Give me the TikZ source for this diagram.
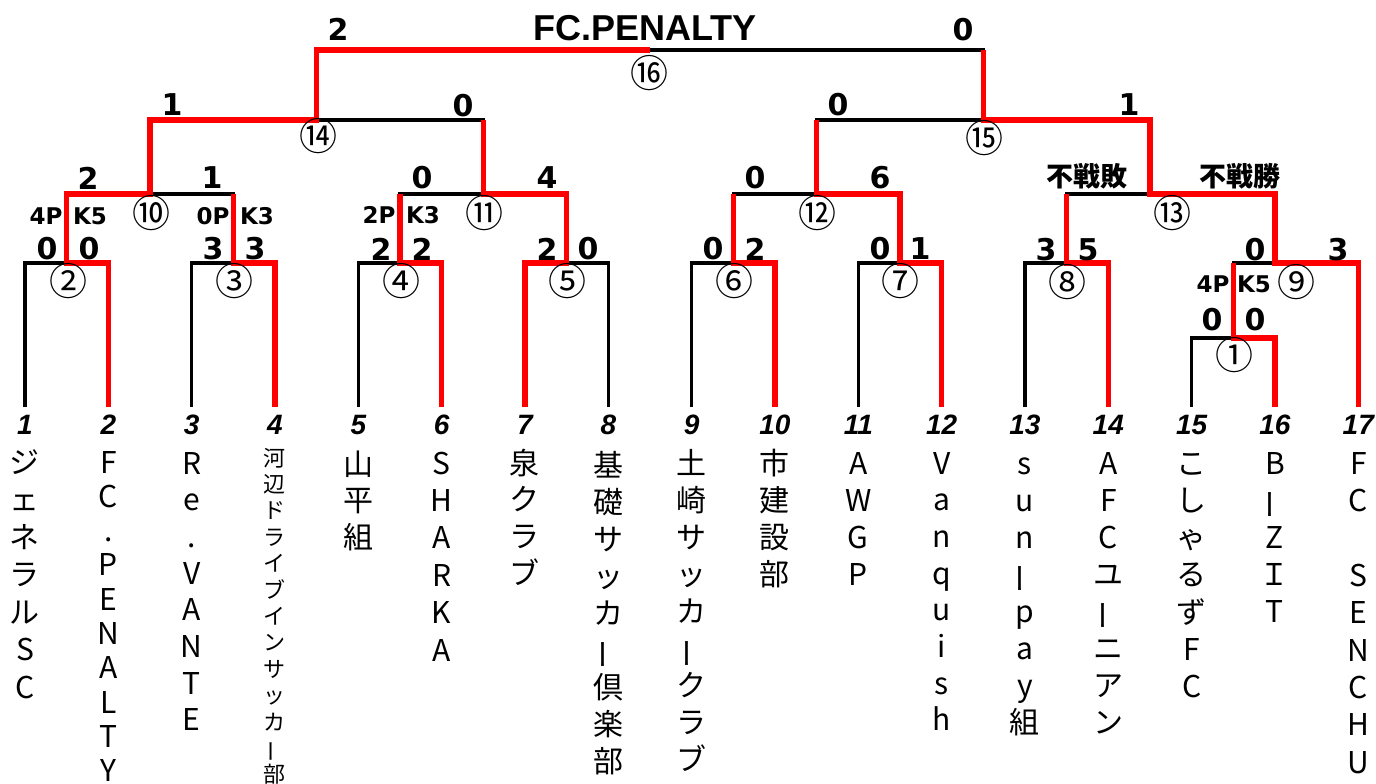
\documentclass[tikz,border=0pt]{standalone}
\usepackage{fontspec}
\usepackage{graphicx}
\setmainfont{Liberation Sans}
\newfontfamily\jp{Noto Sans CJK JP}
\newfontfamily\scorefont{DejaVu Sans}
\newcommand\tate{\rotatebox[origin=c]{90}{ー}}
% team name written top to bottom, one node per character
\newcommand\tname[5][tchar]{%
  \foreach \c [count=\k from 0] in {#5} {%
    \ifx\c\empty\else
      \node[#1] (n#2-\k) at ({25+83.33*(#2-1)},{#3+\k*#4}) {\c};
    \fi}}
\tikzset{
  bline/.style={line width=1.6pt,black},
  rline/.style={line width=2.6pt,red},
  score/.style={font=\scorefont\bfseries\fontsize{15}{18}\selectfont,inner sep=0pt},
  pk/.style={font=\scorefont\bfseries\fontsize{11.5}{14}\selectfont,inner sep=0pt},
  bye/.style={font=\jp\bfseries\fontsize{13.5}{16}\selectfont,inner sep=0pt},
  rnd/.style={font=\jp\fontsize{19}{22}\selectfont,inner sep=0pt},
  tnum/.style={font=\bfseries\itshape\fontsize{14}{16}\selectfont,inner sep=0pt},
  tchar/.style={font=\jp\fontsize{15}{18}\selectfont,anchor=base,yshift=-5.5pt,inner sep=0pt},
  tsmall/.style={font=\jp\fontsize{11}{13}\selectfont,anchor=base,yshift=-4pt,inner sep=0pt},
}
\begin{document}
\begin{tikzpicture}[x=0.5pt,y=-0.5pt]
\useasboundingbox (0,0) rectangle (1376,783);
% teams
\foreach \i in {1,...,17}
  \coordinate (t\i) at ({25+83.33*(\i-1)},407);
% matches
\coordinate (m1) at (1233.3,338);
\coordinate (m2) at (66.7,263);
\coordinate (m3) at (233.3,263);
\coordinate (m4) at (400,263);
\coordinate (m5) at (566.7,263);
\coordinate (m6) at (733.3,263);
\coordinate (m7) at (900,263);
\coordinate (m8) at (1066.7,263);
\coordinate (m9) at (1275,263);
\coordinate (m10) at (150,194);
\coordinate (m11) at (483.3,194);
\coordinate (m12) at (816.7,194);
\coordinate (m13) at (1150,194);
\coordinate (m14) at (316.7,120);
\coordinate (m15) at (983.3,120);
\coordinate (m16) at (650,50);

% bracket
\foreach \a/\b in {t1/m2,t2/m2,t3/m3,t4/m3,t5/m4,t6/m4,t7/m5,t8/m5,
    t9/m6,t10/m6,t11/m7,t12/m7,t13/m8,t14/m8,t15/m1,t16/m1,m1/m9,t17/m9,
    m2/m10,m3/m10,m4/m11,m5/m11,m6/m12,m7/m12,m8/m13,m9/m13,
    m10/m14,m11/m14,m12/m15,m13/m15,m14/m16,m15/m16}
  \draw[bline] (\a) |- (\b);

% winners
\draw[rline] (t2) |- (m2) |- (m10) |- (m14) |- (m16);
\draw[rline] (t4) |- (m3) -- (m3 |- m10);
\draw[rline] (t6) |- (m4) -- (m4 |- m11);
\draw[rline] (t7) |- (m5) |- (m11) -- (m11 |- m14);
\draw[rline] (t10) |- (m6) -- (m6 |- m12);
\draw[rline] (t12) |- (m7) |- (m12) -- (m12 |- m15);
\draw[rline] (t14) |- (m8) -- (m8 |- m13);
\draw[rline] (t16) |- (m1) -- (m1 |- m9);
\draw[rline] (t17) |- (m9) |- (m13) |- (m15) -- (m15 |- m16);

% match numbers
\foreach \n/\c/\x/\y in {1/①/1234/355,2/②/68/281,3/③/234/281,4/④/401/281,
    5/⑤/567/281,6/⑥/734/281,7/⑦/900/281,8/⑧/1067/282,9/⑨/1296/282,
    10/⑩/151/213,11/⑪/484/213,12/⑫/817/213,13/⑬/1172/213,
    14/⑭/318/136,15/⑮/984/138,16/⑯/649/73}
  \node[rnd] (r\n) at (\x,\y) {\c};

% scores
\foreach \nm/\x/\y/\v in {s16a/338/29/2,s16b/963/30/0,
    s14a/172/105/1,s14b/463/106/0,s15a/838/105/0,s15b/1129/105/1,
    s10a/88/178/2,s10b/212/178/1,s11a/422/178/0,s11b/547/178/4,
    s12a/755/178/0,s12b/880/178/6,
    s2a/47/249/0,s2b/89/249/0,s3a/213/249/3,s3b/255/249/3,
    s4a/381/249/2,s4b/422/249/2,s5a/547/249/2,s5b/588/249/0,
    s6a/713/249/0,s6b/755/249/2,s7a/880/249/0,s7b/920/249/1,
    s8a/1046/250/3,s8b/1088/250/5,s9a/1255/250/0,s9b/1338/250/3,
    s1a/1212/320/0,s1b/1255/320/0}
  \node[score] (\nm) at (\x,\y) {\v};
\node[bye] (s13a) at (1087,176) {不戦敗};
\node[bye] (s13b) at (1240,176) {不戦勝};
\foreach \nm/\x/\y/\v in {p2a/46/216/4P,p2b/90/216/K5,p3a/213/216/0P,p3b/257/216/K3,
    p4a/379/215/2P,p4b/423/215/K3,p1a/1213/284/4P,p1b/1254/284/K5}
  \node[pk] (\nm) at (\x,\y) {\v};
\node[font=\bfseries\fontsize{18}{20}\selectfont,inner sep=0pt] (champ) at (645,28) {FC.PENALTY};

% team numbers and names
\foreach \i in {1,...,17}
  \node[tnum] (k\i) at ({25+83.33*(\i-1)},425) {\i};
\tname{1}{462}{37.5}{ジ,ェ,ネ,ラ,ル,S,C}
\tname{2}{462}{34.3}{F,C,.,P,E,N,A,L,T,Y}
\tname{3}{463}{36.7}{R,e,.,V,A,N,T,E}
\tname[tsmall]{4}{458}{26.4}{河,辺,ド,ラ,イ,ブ,イ,ン,サ,ッ,カ,\tate,部}
\tname{5}{464}{36.5}{山,平,組}
\tname{6}{463}{37.4}{S,H,A,R,K,A}
\tname{7}{463}{36.7}{泉,ク,ラ,ブ}
\tname{8}{465}{37}{基,礎,サ,ッ,カ,\tate,倶,楽,部}
\tname{9}{463}{37.1}{土,崎,サ,ッ,カ,\tate,ク,ラ,ブ}
\tname{10}{463}{37}{市,建,設,部}
\tname{11}{463}{37}{A,W,G,P}
\tname{12}{463}{36.7}{V,a,n,q,u,i,s,h}
\tname{13}{463}{37.1}{s,u,n,\tate,p,a,y,組}
\tname{14}{463}{37.1}{A,F,C,ユ,\tate,ニ,ア,ン}
\tname{15}{463}{37.3}{こ,し,ゃ,る,ず,F,C}
\tname{16}{463}{37}{B,\tate,Z,Ｉ,T}
\tname{17}{463}{37.4}{F,C,,S,E,N,C,H,U}
\end{tikzpicture}
\end{document}
